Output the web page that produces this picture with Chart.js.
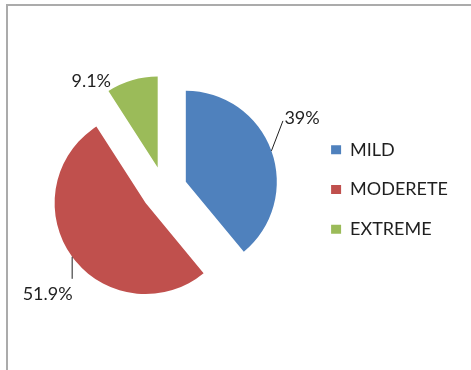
<!DOCTYPE html>
<html>
<head>
    <title>Severity distribution</title>
    <script src="https://cdn.jsdelivr.net/npm/chart.js"></script>
    <style>
        html, body {
            margin: 0;
            padding: 0;
            background: #ffffff;
        }
        #chart-container {
            position: relative;
            width: 471px;
            height: 370px;
        }
    </style>
</head>
<body>
    <div id="chart-container">
        <canvas id="myChart"></canvas>
    </div>

    <script>
        // Datos del gráfico
        const categories = ['MILD', 'MODERETE', 'EXTREME'];
        const percentages = [39, 51.9, 9.1];
        const sliceColors = ['#4F81BD', '#C0504D', '#9BBB59'];

        const FONT_FAMILY = 'Lato, Carlito, Calibri, "Open Sans", sans-serif';
        const TEXT_COLOR = '#1f1f1f';

        // Marco gris arriba y a la izquierda
        const framePlugin = {
            id: 'chartFrame',
            beforeDraw(chart) {
                const ctx = chart.ctx;
                ctx.save();
                ctx.strokeStyle = '#ABABAB';
                ctx.lineWidth = 2;
                ctx.beginPath();
                ctx.moveTo(7, chart.height);
                ctx.lineTo(7, 5);
                ctx.lineTo(chart.width, 5);
                ctx.stroke();
                ctx.restore();
            }
        };

        // Separa cada porción del centro a lo largo de su ángulo medio
        const explodePlugin = {
            id: 'explode',
            afterDatasetsUpdate(chart, args, opts) {
                const dist = opts.distance || 0;
                chart.getDatasetMeta(0).data.forEach(arc => {
                    const mid = (arc.startAngle + arc.endAngle) / 2;
                    arc.x += Math.cos(mid) * dist;
                    arc.y += Math.sin(mid) * dist;
                });
            }
        };

        // Etiquetas de porcentaje con línea guía
        const pctLabelPlugin = {
            id: 'pctLabels',
            afterDatasetsDraw(chart, args, opts) {
                const ctx = chart.ctx;
                const values = chart.data.datasets[0].data;
                ctx.save();
                ctx.font = opts.font;
                ctx.fillStyle = TEXT_COLOR;
                ctx.strokeStyle = TEXT_COLOR;
                ctx.lineWidth = 1;
                chart.getDatasetMeta(0).data.forEach((arc, i) => {
                    const place = opts.placement[i];
                    const mid = (arc.startAngle + arc.endAngle) / 2;
                    const ex = arc.x + Math.cos(mid) * arc.outerRadius;
                    const ey = arc.y + Math.sin(mid) * arc.outerRadius;
                    if (place.line) {
                        ctx.beginPath();
                        ctx.moveTo(ex, ey);
                        ctx.lineTo(ex + place.line[0], ey + place.line[1]);
                        ctx.stroke();
                    }
                    ctx.textAlign = place.align;
                    ctx.textBaseline = 'alphabetic';
                    ctx.fillText(values[i] + '%', ex + place.text[0], ey + place.text[1]);
                });
                ctx.restore();
            }
        };

        const ctx = document.getElementById('myChart').getContext('2d');

        new Chart(ctx, {
            type: 'pie',
            data: {
                labels: categories,
                datasets: [{
                    data: percentages,
                    backgroundColor: sliceColors,
                    borderWidth: 0
                }]
            },
            options: {
                responsive: true,
                maintainAspectRatio: false,
                animation: false,
                events: [],
                radius: 91,
                layout: {
                    padding: { left: 19, right: 13, top: 9, bottom: 0 }
                },
                plugins: {
                    legend: {
                        position: 'right',
                        align: 'center',
                        labels: {
                            boxWidth: 10,
                            boxHeight: 9,
                            padding: 21.75,
                            color: TEXT_COLOR,
                            font: { family: FONT_FAMILY, size: 18 }
                        }
                    },
                    tooltip: { enabled: false },
                    explode: { distance: 23 },
                    pctLabels: {
                        font: '18px ' + FONT_FAMILY,
                        placement: [
                            { line: [11.5, -30], text: [13, -26.5], align: 'left' },
                            { line: [0, 22], text: [0.5, 43], align: 'right' },
                            { line: null, text: [-21, 7], align: 'right' }
                        ]
                    }
                }
            },
            plugins: [framePlugin, explodePlugin, pctLabelPlugin]
        });
    </script>
</body>
</html>
